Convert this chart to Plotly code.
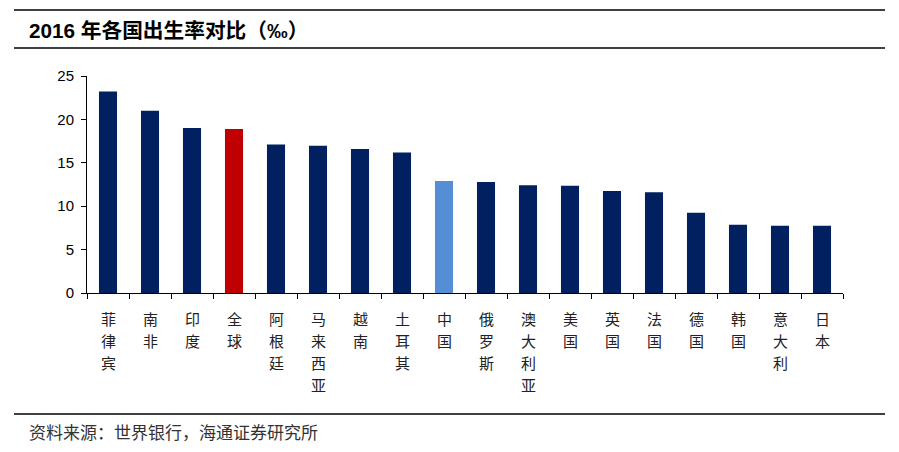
import plotly.graph_objects as go

countries = ["菲律宾", "南非", "印度", "全球", "阿根廷", "马来西亚", "越南", "土耳其", "中国",
             "俄罗斯", "澳大利亚", "美国", "英国", "法国", "德国", "韩国", "意大利", "日本"]
birth_rates = [23.2, 21.0, 19.0, 18.9, 17.1, 16.95, 16.6, 16.2, 12.9,
               12.8, 12.4, 12.35, 11.75, 11.6, 9.25, 7.85, 7.75, 7.75]
y_ticks = [0, 5, 10, 15, 20, 25]

NAVY = "#002060"
RED = "#C00000"
LIGHT = "#558ED5"
colors = [RED if c == "全球" else LIGHT if c == "中国" else NAVY for c in countries]

# page has an 8px body margin; compensate so plot area lands at x 87..843, y 76..293
L, R, T, B = 79, 899 - 835, 68, 452 - 285
PW, PH = 756, 217

def px_y(y_page):
    return 1 - ((y_page - 8) - T) / PH

def px_x(x_page):
    return ((x_page - 8) - L) / PW

fig = go.Figure(go.Bar(
    x=countries, y=birth_rates, marker=dict(color=colors, line=dict(width=0)),
    width=0.43,
))

# vertical (stacked-character) category labels, placed on the category axis
label_annots = []
for c in countries:
    for i, ch in enumerate(c):
        label_annots.append(dict(
            text=ch, x=c, xref="x", y=0, yref="paper", yanchor="middle", xanchor="center",
            yshift=-(25 + 22 * i), showarrow=False,
            font=dict(family="Noto Sans CJK SC", size=15, color="#222"),
        ))

fig.update_layout(
    width=899, height=452,
    paper_bgcolor="white", plot_bgcolor="white",
    margin=dict(l=L, r=R, t=T, b=B),
    showlegend=False,
    font=dict(family="Noto Sans CJK SC", color="black"),
    xaxis=dict(
        type="category", showline=True, linecolor="black", linewidth=1,
        ticks="outside", tickson="boundaries", ticklen=5, tickcolor="black",
        showticklabels=False,
        range=[-0.5, 17.5], showgrid=False, fixedrange=True,
    ),
    yaxis=dict(
        range=[0, 25], tickvals=y_ticks, showline=True, linecolor="black", linewidth=1,
        ticks="outside", ticklen=5, tickcolor="black", showgrid=False, zeroline=False,
        tickfont=dict(family="Liberation Sans, Arial", size=15, color="black"),
        ticklabelstandoff=4,
    ),
    shapes=[
        dict(type="line", xref="paper", yref="paper", x0=px_x(14), x1=px_x(885),
             y0=px_y(10), y1=px_y(10), line=dict(color="black", width=1.5)),
        dict(type="line", xref="paper", yref="paper", x0=px_x(14), x1=px_x(885),
             y0=px_y(48), y1=px_y(48), line=dict(color="black", width=1.5)),
        dict(type="line", xref="paper", yref="paper", x0=px_x(14), x1=px_x(885),
             y0=px_y(414), y1=px_y(414), line=dict(color="black", width=1.5)),
    ],
    annotations=[
        dict(text="<b>2016 年各国出生率对比（‰）</b>", xref="paper", yref="paper",
             x=px_x(27), y=px_y(30), xanchor="left", yanchor="middle",
             showarrow=False, font=dict(family="Liberation Sans, Noto Sans CJK SC", size=20.7, color="black")),
        dict(text="资料来源：世界银行，海通证券研究所", xref="paper", yref="paper",
             x=px_x(27), y=px_y(431), xanchor="left", yanchor="middle",
             showarrow=False, font=dict(family="Noto Sans CJK SC", size=17, color="#333")),
    ] + label_annots,
)

fig.write_html("out.html")
